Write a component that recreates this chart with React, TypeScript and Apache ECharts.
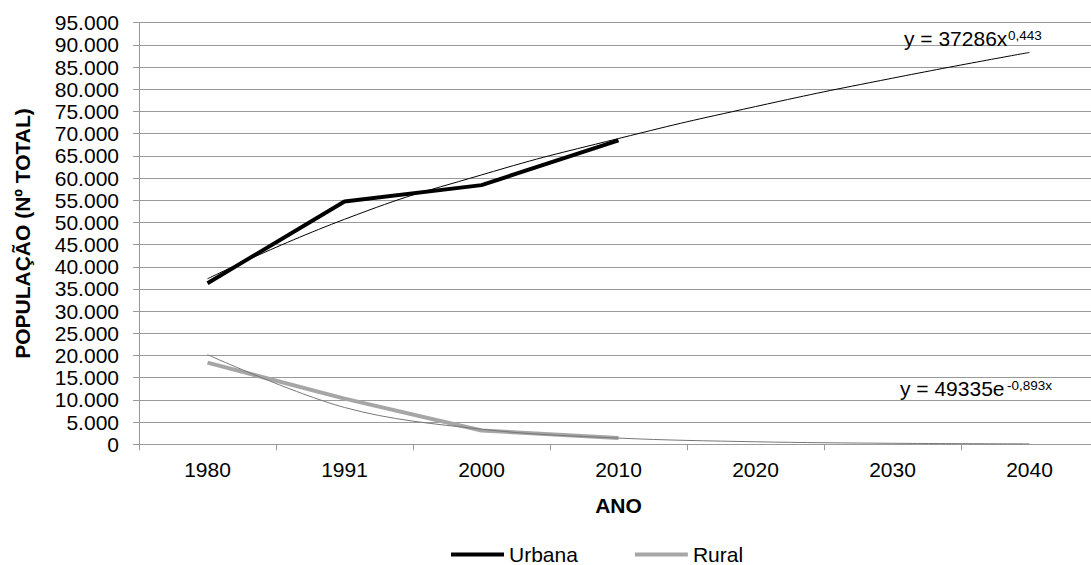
import React, { useEffect, useRef } from "react";
import * as echarts from "echarts";

const years = ["1980", "1991", "2000", "2010", "2020", "2030", "2040"];
const urbana = [36300, 54700, 58400, 68500, null, null, null];
const rural = [18400, 10300, 3100, 1400, null, null, null];
// trendline values at each category
const urbanaTrend = [37300, 50700, 60700, 68900, 76100, 82500, 88300];
const ruralTrend = [20200, 8300, 3400, 1400, 570, 230, 95];
const eqUrbana = { main: "y = 37286x", sup: "0,443" };
const eqRural = { main: "y = 49335e", sup: "-0,893x" };

const FONT = "'Liberation Sans', Arial, sans-serif";

function fmt(v: number): string {
  if (v === 0) return "0";
  const th = Math.floor(v / 1000);
  const rest = v % 1000;
  return th > 0 ? `${th}.${String(rest).padStart(3, "0")}` : String(rest);
}

export default function App() {
  const ref = useRef<HTMLDivElement>(null);
  useEffect(() => {
    if (!ref.current) return;
    const chart = echarts.init(ref.current, undefined, { renderer: "svg" });
    chart.setOption({
      animation: false,
      backgroundColor: "#ffffff",
      textStyle: { fontFamily: FONT },
      grid: { left: 139, top: 22.7, width: 959, height: 421.6, containLabel: false },
      legend: {
        data: ["Urbana", "Rural"],
        left: 451,
        top: 544,
        padding: 0,
        icon: "rect",
        itemWidth: 53,
        itemHeight: 4,
        itemGap: 57,
        textStyle: { fontSize: 21, lineHeight: 20, color: "#000", fontFamily: FONT },
      },
      xAxis: {
        type: "category",
        data: years,
        boundaryGap: true,
        name: "ANO",
        nameLocation: "middle",
        nameGap: 51,
        nameTextStyle: { fontSize: 21, fontWeight: "bold", color: "#000", fontFamily: FONT },
        axisLine: { lineStyle: { color: "#999", width: 1 } },
        axisTick: { show: true, length: 6, lineStyle: { color: "#999" } },
        axisLabel: { fontSize: 21, color: "#000", margin: 15, fontFamily: FONT },
        splitLine: { show: false },
      },
      yAxis: {
        type: "value",
        min: 0,
        max: 95000,
        interval: 5000,
        name: "POPULAÇÃO (Nº TOTAL)",
        nameLocation: "middle",
        nameGap: 106,
        nameTextStyle: { fontSize: 21, fontWeight: "bold", color: "#000", fontFamily: FONT },
        axisLine: { show: true, lineStyle: { color: "#999", width: 1 } },
        axisTick: { show: true, length: 6, lineStyle: { color: "#999" } },
        axisLabel: { fontSize: 21, color: "#000", margin: 20, formatter: (v: number) => fmt(v), fontFamily: FONT },
        splitLine: { show: true, lineStyle: { color: "#999", width: 1 } },
      },
      series: [
        {
          name: "Urbana",
          type: "line",
          data: urbana,
          symbol: "none",
          lineStyle: { color: "#000", width: 4 },
          itemStyle: { color: "#000" },
          z: 2,
        },
        {
          name: "Rural",
          type: "line",
          data: rural,
          symbol: "none",
          lineStyle: { color: "#a6a6a6", width: 4 },
          itemStyle: { color: "#a6a6a6" },
          z: 2,
        },
        {
          name: "Tendência Urbana",
          type: "line",
          data: urbanaTrend,
          symbol: "none",
          smooth: true,
          lineStyle: { color: "#000", width: 1 },
          z: 3,
        },
        {
          name: "Tendência Rural",
          type: "line",
          data: ruralTrend,
          symbol: "none",
          smooth: 0.35,
          lineStyle: { color: "#777", width: 1 },
          z: 3,
        },
      ],
      graphic: [
        {
          type: "text",
          left: 904,
          top: 28,
          style: { text: eqUrbana.main, fontSize: 21, fill: "#000", fontFamily: FONT },
          z: 10,
        },
        {
          type: "text",
          left: 1008,
          top: 28,
          style: { text: eqUrbana.sup, fontSize: 13.5, fill: "#000", fontFamily: FONT },
          z: 10,
        },
        {
          type: "text",
          left: 900,
          top: 378,
          style: { text: eqRural.main, fontSize: 21, fill: "#000", fontFamily: FONT },
          z: 10,
        },
        {
          type: "text",
          left: 1007,
          top: 378,
          style: { text: eqRural.sup, fontSize: 13.5, fill: "#000", fontFamily: FONT },
          z: 10,
        },
      ],
    });
    return () => chart.dispose();
  }, []);
  return (
    <div style={{ position: "absolute", left: 0, top: 0, width: 1091, height: 565, overflow: "hidden", background: "#fff" }}>
      <div ref={ref} style={{ width: 1110, height: 565 }} />
    </div>
  );
}
